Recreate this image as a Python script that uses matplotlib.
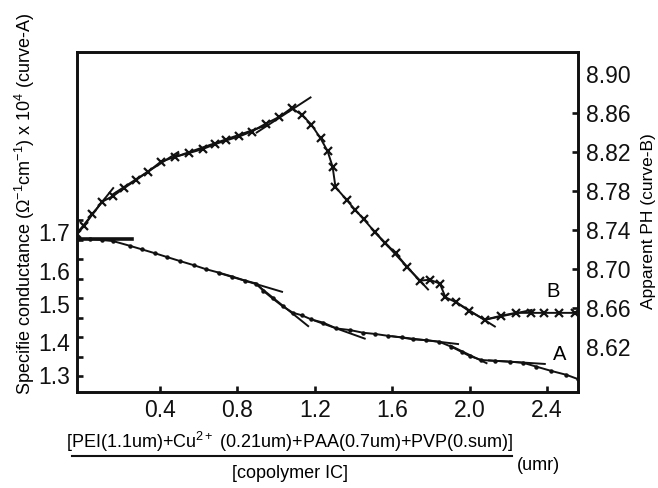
import matplotlib
matplotlib.use('Agg')
import matplotlib.pyplot as plt
from matplotlib.lines import Line2D
from matplotlib.transforms import ScaledTranslation

plt.rcParams['font.family'] = ['Liberation Sans', 'DejaVu Sans']
plt.rcParams['mathtext.fontset'] = 'custom'
plt.rcParams['mathtext.rm'] = 'Liberation Sans'
plt.rcParams['mathtext.it'] = 'Liberation Sans'

# curve A : specific conductance (left axis)
a_x = [0.039, 0.099, 0.159, 0.245, 0.306, 0.374, 0.438, 0.503, 0.577, 0.638,
       0.706, 0.775, 0.839, 0.899, 0.933, 0.982, 1.034, 1.088, 1.132, 1.183,
       1.243, 1.312, 1.381, 1.450, 1.510, 1.579, 1.648, 1.708, 1.777, 1.842,
       1.906, 1.958, 2.001, 2.061, 2.130, 2.207, 2.276, 2.345, 2.422, 2.500, 2.560]
a_y = [1.651, 1.649, 1.646, 1.634, 1.625, 1.615, 1.605, 1.595, 1.584, 1.574,
       1.565, 1.555, 1.545, 1.537, 1.519, 1.499, 1.479, 1.462, 1.456, 1.445,
       1.437, 1.422, 1.418, 1.411, 1.408, 1.403, 1.399, 1.394, 1.392, 1.388,
       1.375, 1.362, 1.351, 1.341, 1.339, 1.337, 1.334, 1.324, 1.313, 1.303, 1.292]

# tangent lines drawn on curve A (x0, x1, y0, y1)
a_tangents = [
    (0.70, 1.031, 1.565, 1.516),
    (0.891, 1.166, 1.538, 1.428),
    (1.20, 1.458, 1.442, 1.396),
    (1.60, 1.940, 1.402, 1.382),
    (1.90, 2.087, 1.378, 1.333),
    (2.10, 2.388, 1.340, 1.331),
]
a_flat = (-0.028, 0.254, 1.651)

# curve B : apparent pH (right axis)
b_x = [-0.030, 0.008, 0.051, 0.102, 0.159, 0.216, 0.275, 0.340, 0.405, 0.478,
       0.551, 0.621, 0.684, 0.744, 0.810, 0.874, 0.946, 1.016, 1.080, 1.135,
       1.183, 1.230, 1.266, 1.292, 1.307, 1.364, 1.407, 1.453, 1.510, 1.562,
       1.619, 1.677, 1.742, 1.794, 1.846, 1.875, 1.928, 1.997, 2.078, 2.161,
       2.238, 2.319, 2.384, 2.462, 2.543]
b_y = [8.736, 8.744, 8.756, 8.769, 8.775, 8.783, 8.791, 8.800, 8.810, 8.815,
       8.819, 8.823, 8.828, 8.832, 8.836, 8.841, 8.849, 8.856, 8.865, 8.858,
       8.848, 8.834, 8.821, 8.805, 8.784, 8.771, 8.761, 8.751, 8.738, 8.727,
       8.716, 8.702, 8.688, 8.689, 8.685, 8.671, 8.666, 8.657, 8.648, 8.652,
       8.655, 8.655, 8.655, 8.655, 8.655]

b_tangents = [
    (-0.030, 0.159, 8.736, 8.783),
    (0.16, 0.495, 8.777, 8.820),
    (0.48, 0.960, 8.815, 8.848),
    (0.90, 1.178, 8.840, 8.876),
    (1.50, 1.785, 8.740, 8.679),
    (1.93, 2.130, 8.666, 8.641),
    (2.08, 2.320, 8.648, 8.658),
]

x_ticks = [0.4, 0.8, 1.2, 1.6, 2.0, 2.4]
left_ticks = [1.3, 1.4, 1.5, 1.6, 1.7]
left_minor = [1.35, 1.45, 1.55, 1.65]
right_ticks = [8.62, 8.66, 8.70, 8.74, 8.78, 8.82, 8.86, 8.90]

fig = plt.figure(figsize=(6.58, 4.88), dpi=100)
ax = fig.add_axes([0.117, 0.1967, 0.761, 0.6967])
ax2 = ax.twinx()

lw = 1.4
ax.plot(a_x, a_y, color='#111111', lw=lw, marker='o', ms=2.2)
ax.plot([a_flat[0], a_flat[1]], [a_flat[2], a_flat[2]], color='#111111', lw=2.6)
for x0, x1, y0, y1 in a_tangents:
    ax.plot([x0, x1], [y0, y1], color='#111111', lw=lw)

ax2.plot(b_x, b_y, color='#111111', lw=lw, marker='x', ms=5.5, mew=1.6)
for x0, x1, y0, y1 in b_tangents:
    ax2.plot([x0, x1], [y0, y1], color='#111111', lw=lw)

ax.set_xlim(-0.028, 2.558)
ax.set_ylim(1.259, 2.131)
ax2.set_ylim(8.5738, 8.9226)

ax.set_xticks(x_ticks)
ax.set_xticklabels(['%.1f' % v for v in x_ticks])
ax.set_yticks(left_ticks)
ax.set_yticklabels(['%.1f' % v for v in left_ticks])
ax.set_yticks(left_minor, minor=True)
ax2.set_yticks(right_ticks)
ax2.set_yticklabels(['%.2f' % v for v in right_ticks])

for a in (ax, ax2):
    for s in a.spines.values():
        s.set_linewidth(1.9)
        s.set_color('#111111')
ax.tick_params(axis='both', which='both', direction='in', length=4, width=1.9,
               labelsize=16.5, colors='#111111', pad=5)
ax2.tick_params(axis='y', which='both', direction='in', length=4, width=1.9,
                labelsize=16.5, colors='#111111', pad=6)

# no tick marks at the two end labels of the pH axis
rticks = ax2.yaxis.get_major_ticks()
rticks[0].tick2line.set_visible(False)
rticks[-1].tick2line.set_visible(False)

# the left labels sit a little below their ticks in the original
shifts = [1, -5, -6, -12, -12]
for lab, dy in zip(ax.get_yticklabels(), shifts):
    lab.set_transform(lab.get_transform() + ScaledTranslation(0, dy / 100, fig.dpi_scale_trans))

ax2.text(2.43, 8.677, 'B', fontsize=14.5, ha='center', va='center')
ax2.text(2.465, 8.612, 'A', fontsize=14.5, ha='center', va='center')

fig.text(25 / 658, 1 - 204 / 488,
         r'Specifie conductance ($\Omega^{-1}$cm$^{-1}$) x 10$^{4}$ (curve-A)',
         rotation=90, ha='center', va='center', fontsize=13)
fig.text(649 / 658, 1 - 221 / 488, 'Apparent PH (curve-B)',
         rotation=90, ha='center', va='center', fontsize=12.5)

# x label as a fraction
fig.text(290 / 658, 1 - 442 / 488,
         r'[PEI(1.1um)+Cu$^{2+}$ (0.21um)+PAA(0.7um)+PVP(0.sum)]',
         ha='center', va='center', fontsize=13)
fig.add_artist(Line2D([72 / 658, 512 / 658], [1 - 456 / 488, 1 - 456 / 488],
                      color='#111111', lw=1.5, transform=fig.transFigure))
fig.text(290 / 658, 1 - 474 / 488, '[copolymer IC]', ha='center', va='center',
         fontsize=13)
fig.text(517 / 658, 1 - 465 / 488, '(umr)', ha='left', va='center',
         fontsize=13)

plt.savefig('out.png', dpi=100)
